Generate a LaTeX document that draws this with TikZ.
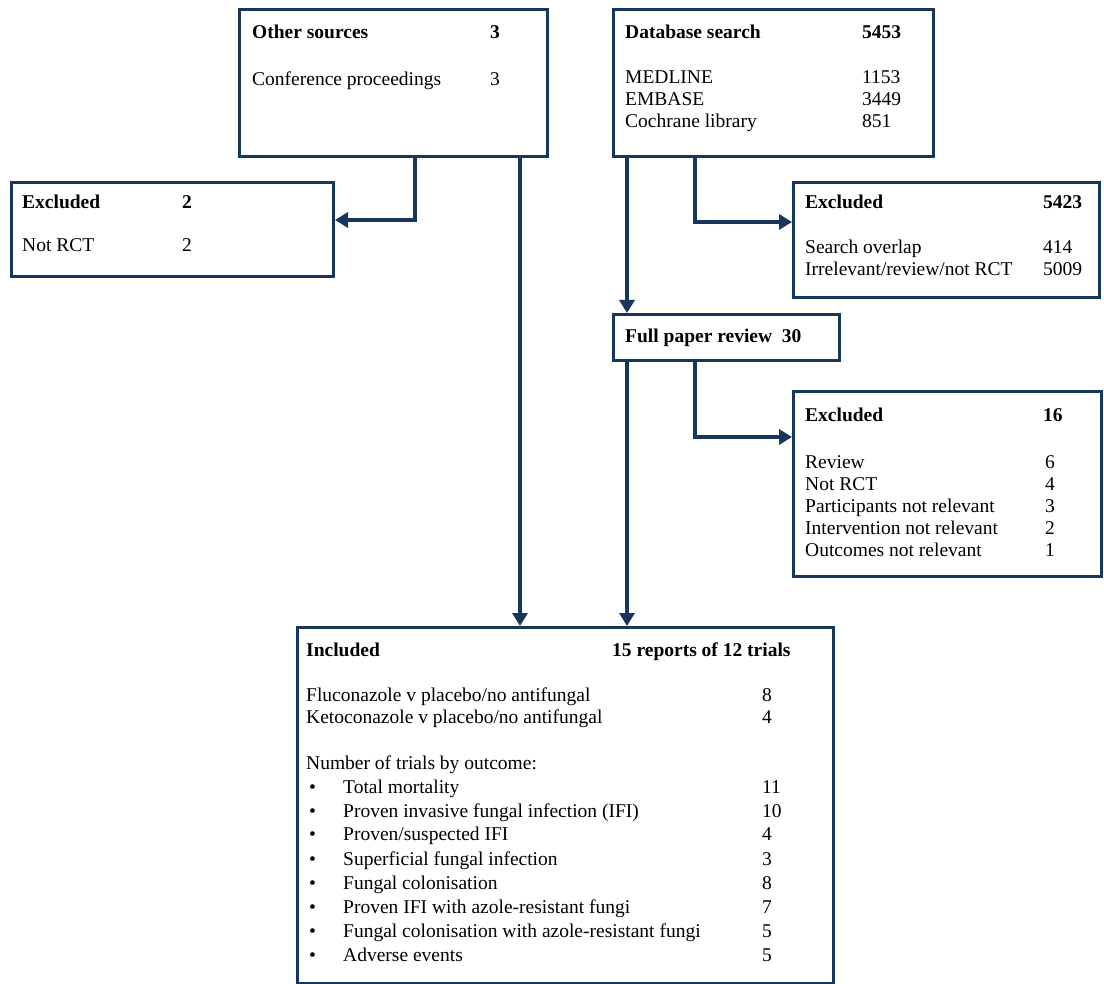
\documentclass[tikz,border=0pt]{standalone}
\usepackage{fontspec}
\setmainfont{Liberation Serif}
\usetikzlibrary{arrows.meta}
\definecolor{navy}{RGB}{22,54,92}
\tikzset{
  x=1pt,y=-1pt,
  box/.style={draw=navy,line width=3pt,rectangle,inner sep=0pt,anchor=north west},
  txt/.style={anchor=west,inner sep=0pt,text height=15pt,text depth=3pt,font=\fontsize{19.5}{22}\selectfont},
  hd/.style={txt,font=\fontsize{19.5}{22}\selectfont\bfseries},
  arr/.style={draw=navy,line width=4.5pt,-{Triangle[length=13pt,width=15pt]}}
}
\begin{document}
\begin{tikzpicture}
\fill[white] (0,0) rectangle (1104,984);
\useasboundingbox (0,0) rectangle (1104,984);
% boxes
\node[box,minimum width=308pt,minimum height=147pt] (other) at (238,8) {};
\node[box,minimum width=320pt,minimum height=147pt] (db) at (612,8) {};
\node[box,minimum width=322pt,minimum height=94pt] (exa) at (10,181) {};
\node[box,minimum width=306pt,minimum height=115pt] (exb) at (792,181) {};
\node[box,minimum width=226pt,minimum height=46pt] (full) at (612,313) {};
\node[box,minimum width=308pt,minimum height=185pt] (exc) at (792,390) {};
\node[box,minimum width=536pt,minimum height=356pt] (inc) at (296,626) {};
% other sources
\node[hd] (t1) at (252,33) {Other sources};
\node[hd] (t2) at (490,33) {3};
\node[txt] (t3) at (252,80) {Conference proceedings};
\node[txt] (t4) at (490,80) {3};
% database
\node[hd] (d1) at (625,33) {Database search};
\node[hd] (d2) at (862,33) {5453};
\node[txt] (d3) at (625,78) {MEDLINE};
\node[txt] (d4) at (862,78) {1153};
\node[txt] (d5) at (625,100) {EMBASE};
\node[txt] (d6) at (862,100) {3449};
\node[txt] (d7) at (625,122) {Cochrane library};
\node[txt] (d8) at (862,122) {851};
% excluded 2
\node[hd] (a1) at (22,203) {Excluded};
\node[hd] (a2) at (182,203) {2};
\node[txt] (a3) at (22,246) {Not RCT};
\node[txt] (a4) at (182,246) {2};
% excluded 5423
\node[hd] (b1) at (805,203) {Excluded};
\node[hd] (b2) at (1043,203) {5423};
\node[txt] (b3) at (805,248) {Search overlap};
\node[txt] (b4) at (1043,248) {414};
\node[txt] (b5) at (805,270) {Irrelevant/review/not RCT};
\node[txt] (b6) at (1043,270) {5009};
% full paper
\node[hd] (f1) at (625,337) {Full paper review\ \ 30};
% excluded 16
\node[hd] (c1) at (805,415) {Excluded};
\node[hd] (c2) at (1043,415) {16};
\node[txt] (c3) at (805,462) {Review};
\node[txt] (c4) at (1045,462) {6};
\node[txt] (c5) at (805,484) {Not RCT};
\node[txt] (c6) at (1045,484) {4};
\node[txt] (c7) at (805,506) {Participants not relevant};
\node[txt] (c8) at (1045,506) {3};
\node[txt] (c9) at (805,528) {Intervention not relevant};
\node[txt] (c10) at (1045,528) {2};
\node[txt] (c11) at (805,550) {Outcomes not relevant};
\node[txt] (c12) at (1045,550) {1};
% included
\node[hd] (i1) at (306,650) {Included};
\node[hd] (i2) at (612,650) {15 reports of 12 trials};
\node[txt] (i3) at (306,695) {Fluconazole v placebo/no antifungal};
\node[txt] (i4) at (762,695) {8};
\node[txt] (i5) at (306,717) {Ketoconazole v placebo/no antifungal};
\node[txt] (i6) at (762,717) {4};
\node[txt] (i7) at (306,763) {Number of trials by outcome:};
\foreach \y/\t/\n [count=\k] in {787/{Total mortality}/11,811/{Proven invasive fungal infection (IFI)}/10,834/{Proven/suspected IFI}/4,859/{Superficial fungal infection}/3,883/{Fungal colonisation}/8,907/{Proven IFI with azole-resistant fungi}/7,931/{Fungal colonisation with azole-resistant fungi}/5,955/{Adverse events}/5}{
  \node[txt] (bu\k) at (309,\y) {\textbullet};
  \node[txt] (it\k) at (343,\y) {\t};
  \node[txt] (nu\k) at (762,\y) {\n};
}
% connectors
\draw[arr] (other.south -| 415,0) |- (exa.east |- 0,220);
\draw[arr] (other.south -| 520,0) -- (inc.north -| 520,0);
\draw[arr] (db.south -| 627,0) -- (full.north -| 627,0);
\draw[arr] (db.south -| 695,0) |- (exb.west |- 0,222);
\draw[arr] (full.south -| 627,0) -- (inc.north -| 627,0);
\draw[arr] (full.south -| 695,0) |- (exc.west |- 0,437);
\end{tikzpicture}
\end{document}
